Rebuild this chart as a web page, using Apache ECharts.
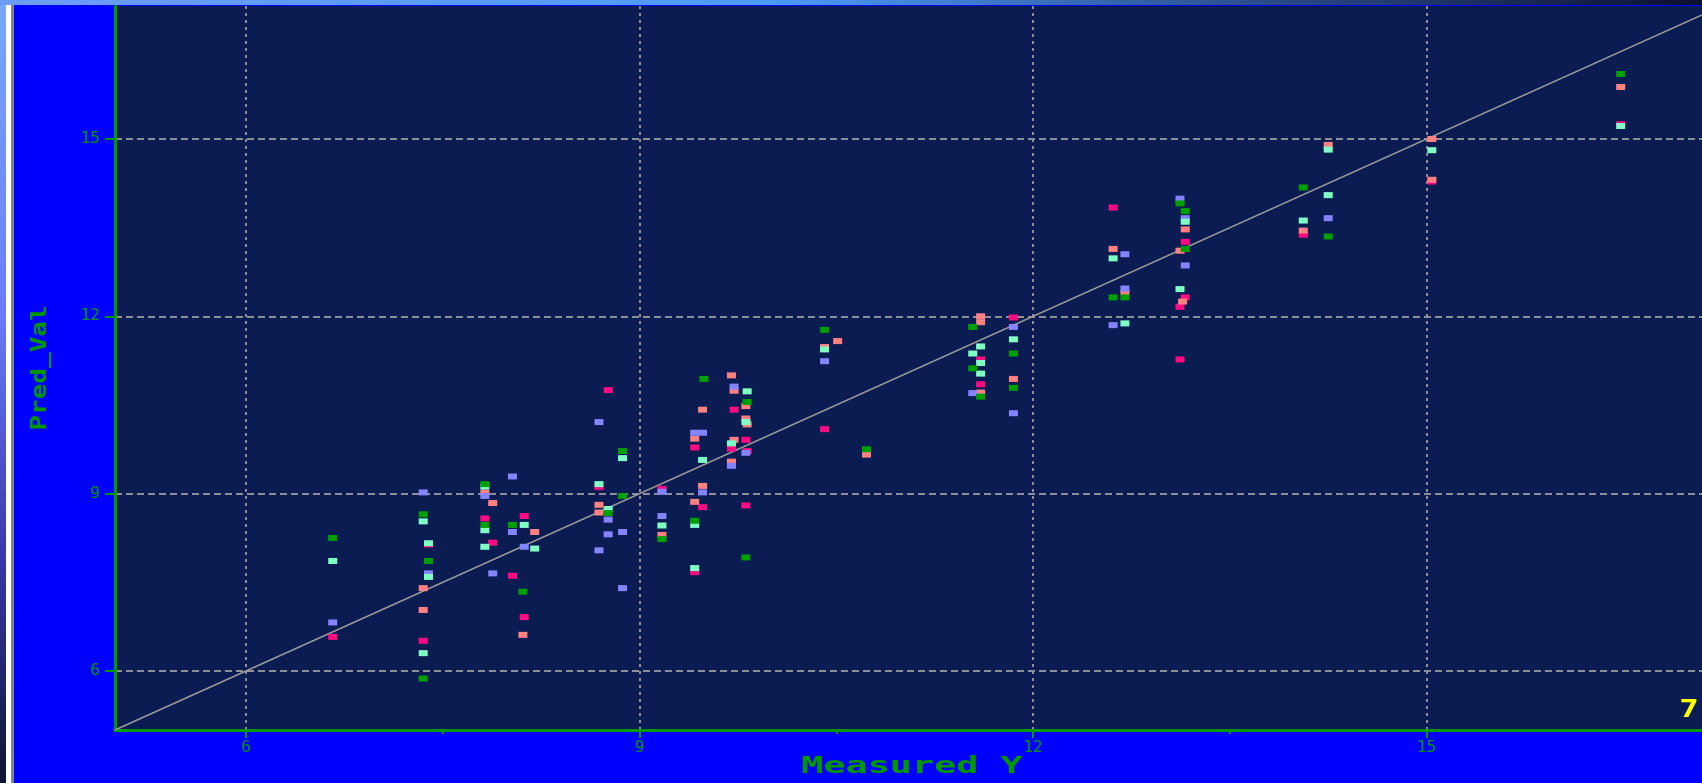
<!DOCTYPE html>
<html>
<head>
<meta charset="utf-8">
<script src="https://cdn.jsdelivr.net/npm/echarts@6/dist/echarts.min.js"></script>
<style>
  html, body { margin: 0; padding: 0; background: #0000ff; overflow: hidden; }
  #chart { width: 1702px; height: 783px; }
</style>
</head>
<body>
<div id="chart"></div>
<script>
// Axis ticks and labels
const xLabelValues = [6, 9, 12, 15];
const xMinorTickValues = [7.5, 10.5, 13.5];
const yLabelValues = [6, 9, 12, 15];
const xTitle = 'Measured Y';
const yTitle = 'Pred_Val';
const pageNumber = '7';

// Measured Y vs predicted value, one list per colour group: [measured, predicted]
const greenPts = [
  [6.66, 8.25], [7.35, 8.65], [7.35, 5.87], [7.39, 7.86], [7.82, 9.16], [7.82, 8.47],
  [8.03, 8.47], [8.11, 7.34], [8.76, 8.67], [8.87, 9.72], [8.87, 8.96], [9.17, 8.23],
  [9.42, 8.54], [9.49, 10.94], [9.82, 10.55], [9.81, 7.92], [10.41, 11.77], [10.73, 9.75],
  [11.54, 11.82], [11.54, 11.12], [11.60, 10.64], [11.85, 11.37], [11.85, 10.79],
  [12.61, 12.32], [12.70, 12.32], [13.12, 13.91], [13.16, 13.78], [13.16, 13.14],
  [14.06, 14.18], [14.25, 13.35], [16.48, 16.10]
];
const mintPts = [
  [6.66, 7.86], [7.35, 8.53], [7.35, 6.30], [7.39, 8.16], [7.39, 7.59], [7.82, 8.38],
  [7.82, 8.10], [7.82, 9.12], [8.12, 8.47], [8.20, 8.07], [8.69, 9.16], [8.76, 8.74],
  [8.87, 9.60], [9.17, 8.46], [9.42, 8.47], [9.42, 7.74], [9.48, 9.57], [9.70, 9.85],
  [9.82, 10.73], [9.81, 10.21], [10.41, 11.44], [11.60, 11.49], [11.54, 11.37],
  [11.60, 11.21], [11.60, 11.03], [11.85, 11.61], [12.61, 12.98], [12.70, 11.88],
  [13.12, 12.46], [13.16, 13.60], [14.06, 13.62], [14.25, 14.05], [14.25, 14.82],
  [15.04, 14.81], [16.48, 15.22]
];
const bluePts = [
  [6.66, 6.82], [7.35, 9.02], [7.39, 7.65], [7.82, 8.96], [7.88, 7.65], [8.03, 9.29],
  [8.03, 8.35], [8.12, 8.10], [8.69, 10.21], [8.69, 8.04], [8.76, 8.56], [8.76, 8.31],
  [8.87, 8.35], [8.87, 7.40], [9.17, 8.62], [9.17, 9.03], [9.42, 10.03], [9.48, 10.03],
  [9.48, 9.02], [9.72, 10.81], [9.70, 9.47], [9.81, 9.69], [10.41, 11.24], [11.54, 10.70],
  [11.85, 11.82], [11.85, 10.36], [12.61, 11.85], [12.70, 13.05], [12.70, 12.47],
  [13.12, 13.99], [13.16, 13.66], [13.16, 12.86], [14.25, 13.66]
];
const salmonPts = [
  [7.35, 7.40], [7.35, 7.03], [7.82, 9.02], [7.88, 8.84], [8.11, 6.61], [8.20, 8.35],
  [8.69, 8.81], [8.69, 8.68], [9.17, 8.30], [9.42, 9.93], [9.42, 8.86], [9.48, 10.42],
  [9.48, 9.13], [9.70, 11.00], [9.72, 10.74], [9.72, 9.91], [9.70, 9.54], [9.81, 10.48],
  [9.81, 10.27], [9.82, 10.17], [10.51, 11.58], [10.41, 11.48], [10.73, 9.66],
  [11.60, 12.00], [11.60, 11.90], [11.60, 10.71], [11.85, 10.94], [12.61, 13.14],
  [12.70, 12.40], [13.12, 13.11], [13.14, 12.25], [13.16, 13.47], [14.06, 13.45],
  [14.25, 14.90], [15.04, 15.00], [15.04, 14.31], [16.48, 15.88]
];
const pinkPts = [
  [6.66, 6.575], [7.35, 6.51], [7.39, 8.14], [7.82, 8.58], [7.88, 8.17], [8.03, 7.61],
  [8.12, 8.62], [8.12, 6.91], [8.69, 9.11], [8.76, 10.75], [9.17, 9.08], [9.42, 9.78],
  [9.42, 7.67], [9.48, 8.77], [9.72, 10.42], [9.70, 9.76], [9.81, 9.91], [9.82, 9.72],
  [9.81, 8.80], [10.41, 10.09], [11.60, 11.27], [11.60, 10.85], [11.85, 11.98],
  [12.61, 13.84], [13.12, 12.16], [13.12, 11.27], [13.16, 13.26], [13.16, 12.32],
  [14.06, 13.38], [15.04, 14.28], [16.48, 15.25]
];

// Identity reference line y = x across the axis range
const X_MIN = 5, X_MAX = 17.1;
const Y_MIN = 5, Y_MAX = 17.25;
const identityLine = [[X_MIN, X_MIN], [X_MAX, X_MAX]];

const GREEN = '#009a00';
const GRID_GRAY = '#8e8e96';
const FONT = 'DejaVu Sans Mono';

function scatter(name, data, color) {
  return {
    name: name,
    type: 'scatter',
    data: data,
    symbol: 'rect',
    symbolSize: [9, 6],
    itemStyle: { color: color, opacity: 1 },
    silent: true,
    animation: false
  };
}

const chart = echarts.init(document.getElementById('chart'), null, { renderer: 'canvas' });

chart.setOption({
  backgroundColor: '#0000ff',
  animation: false,
  grid: {
    left: 115, right: 0, top: 6, bottom: 53,
    show: true, backgroundColor: '#0a1c52', borderWidth: 0
  },
  xAxis: [
    {
      type: 'value', min: X_MIN, max: X_MAX, position: 'bottom',
      axisLine: { show: true, onZero: false, lineStyle: { color: GREEN, width: 3 } },
      axisTick: { show: true, length: 8, customValues: xLabelValues, lineStyle: { color: GREEN, width: 2 } },
      axisLabel: { customValues: xLabelValues, color: GREEN, fontFamily: FONT, fontSize: 16, margin: 10 },
      splitLine: { show: true, lineStyle: { color: GRID_GRAY, type: [3, 4], width: 2 } }
    },
    {
      type: 'value', min: X_MIN, max: X_MAX, position: 'bottom',
      axisLine: { show: false },
      axisTick: { show: true, length: 4, customValues: xMinorTickValues, lineStyle: { color: GREEN, width: 2 } },
      axisLabel: { show: false },
      splitLine: { show: false }
    }
  ],
  yAxis: {
    type: 'value', min: Y_MIN, max: Y_MAX,
    axisLine: { show: true, onZero: false, lineStyle: { color: GREEN, width: 3 } },
    axisTick: { show: true, length: 10, customValues: yLabelValues, lineStyle: { color: GREEN, width: 2 } },
    axisLabel: { customValues: yLabelValues, color: GREEN, fontFamily: FONT, fontSize: 16, margin: 15 },
    splitLine: { show: true, lineStyle: { color: GRID_GRAY, type: [7, 4], width: 2 } }
  },
  series: [
    {
      type: 'line', data: identityLine, symbol: 'none', silent: true,
      lineStyle: { color: '#9a9a9a', width: 1.5 }, z: 1
    },
    scatter('pink', pinkPts, '#ff0a82'),
    scatter('salmon', salmonPts, '#ff8080'),
    scatter('blue', bluePts, '#8484ff'),
    scatter('mint', mintPts, '#80ffc4'),
    scatter('green', greenPts, '#00a000')
  ],
  graphic: [
    // window frame along the left edge
    { type: 'rect', shape: { x: 0, y: 0, width: 6, height: 783 }, silent: true,
      style: { fill: new echarts.graphic.LinearGradient(0, 0, 0, 1, [
        { offset: 0, color: '#7aa8ff' }, { offset: 0.4, color: '#6a7cf6' },
        { offset: 0.7, color: '#3a3ab0' }, { offset: 1, color: '#0e1430' }]) } },
    { type: 'rect', shape: { x: 6, y: 0, width: 5, height: 783 }, silent: true, style: { fill: '#ffffff' } },
    { type: 'rect', shape: { x: 11, y: 0, width: 3, height: 783 }, silent: true, style: { fill: '#7c8494' } },
    // title bar strip along the top edge
    { type: 'rect', shape: { x: 0, y: 0, width: 1702, height: 5 }, silent: true,
      style: { fill: new echarts.graphic.LinearGradient(0, 0, 1, 0, [
        { offset: 0, color: '#6c9cf4' }, { offset: 0.45, color: '#4c9cfa' },
        { offset: 0.75, color: '#2a4a88' }, { offset: 1, color: '#0c1030' }]) } },
    // axis titles, drawn in a wide face
    { type: 'text', x: 912, y: 767, scaleX: 1.6, silent: true,
      style: { text: xTitle, fill: GREEN, align: 'center', verticalAlign: 'middle',
               font: 'bold 23px "DejaVu Sans Mono"' } },
    { type: 'text', x: 40, y: 368, rotation: Math.PI / 2, scaleX: 1.18, silent: true,
      style: { text: yTitle, fill: GREEN, align: 'center', verticalAlign: 'middle',
               font: 'bold 22px "DejaVu Sans Mono"' } },
    // page counter in the corner
    { type: 'text', x: 1689, y: 711, scaleX: 1.35, silent: true,
      style: { text: pageNumber, fill: '#ffff00', align: 'center', verticalAlign: 'middle',
               font: 'bold 24px "DejaVu Sans Mono"' } }
  ]
});
</script>
</body>
</html>
